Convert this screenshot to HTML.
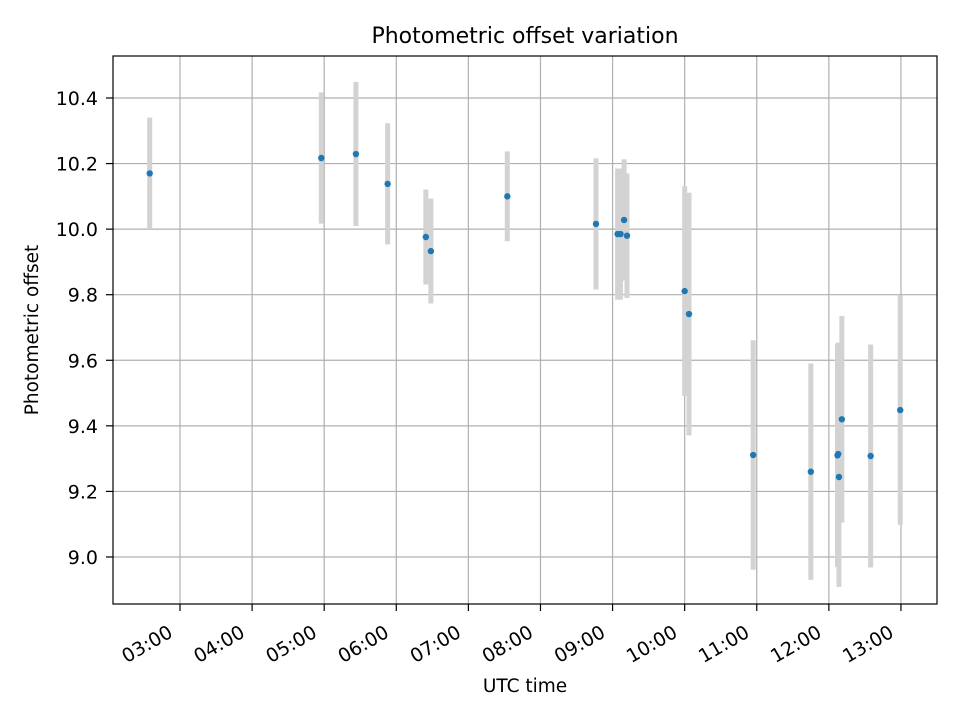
<!DOCTYPE html>
<html><head><meta charset="utf-8"><style>
body{margin:0;background:#fff;}
svg text{font-family:"DejaVu Sans","Liberation Sans",sans-serif;fill:#000;}
</style></head><body>
<svg id="chart" width="960" height="720" xmlns="http://www.w3.org/2000/svg">
<rect width="960" height="720" fill="#fff"/>
<g id="grid"></g>
<g id="errs"></g>
<g id="pts"></g>
<rect x="113" y="56" width="824" height="548" fill="none" stroke="#000" stroke-width="1.2"/>
<g id="ticks"></g>
<text x="525" y="43" font-size="22" text-anchor="middle">Photometric offset variation</text>
<text x="525" y="692" font-size="18.5" text-anchor="middle">UTC time</text>
<text transform="translate(38,330) rotate(-90)" font-size="18.5" text-anchor="middle">Photometric offset</text>
</svg>
<script>
const times=[2.58,4.96,5.44,5.88,6.41,6.48,7.54,8.77,9.07,9.11,9.16,9.2,10.0,10.06,10.95,11.75,12.12,12.13,12.14,12.18,12.58,12.99];
const values=[10.17,10.217,10.229,10.138,9.976,9.933,10.10,10.016,9.985,9.985,10.028,9.98,9.811,9.741,9.311,9.26,9.31,9.314,9.244,9.42,9.308,9.448];
const errors=[0.17,0.2,0.22,0.185,0.145,0.16,0.137,0.2,0.2,0.2,0.185,0.19,0.32,0.37,0.35,0.33,0.34,0.34,0.335,0.315,0.34,0.35];
const xTicks=[3,4,5,6,7,8,9,10,11,12,13];
const xTickLabels=["03:00","04:00","05:00","06:00","07:00","08:00","09:00","10:00","11:00","12:00","13:00"];
const yTicks=[9.0,9.2,9.4,9.6,9.8,10.0,10.2,10.4];
const yTickLabels=["9.0","9.2","9.4","9.6","9.8","10.0","10.2","10.4"];

const L=113,R=937,T=56,B=604;
const xMin=2.0707,xMax=13.5,yMin=8.8566,yMax=10.5281;
const X=h=>L+(h-xMin)/(xMax-xMin)*(R-L);
const Y=v=>B-(v-yMin)/(yMax-yMin)*(B-T);
const NS="http://www.w3.org/2000/svg";
function mk(tag,attrs,parent){const e=document.createElementNS(NS,tag);for(const k in attrs)e.setAttribute(k,attrs[k]);parent.appendChild(e);return e;}
const grid=document.getElementById('grid'),ticks=document.getElementById('ticks');
xTicks.forEach((t,i)=>{
  const x=X(t);
  const g=mk('line',{x1:x,x2:x,y1:T,y2:B,stroke:'#b0b0b0','stroke-width':1.2},grid);
  
  
  const tk=mk('line',{x1:x,x2:x,y1:B,y2:B+7,stroke:'#000','stroke-width':1.2},ticks);
  
  
  const tx=mk('text',{transform:`translate(${x-6},${B+32}) rotate(-30)`,'font-size':19,'text-anchor':'end'},ticks);
  tx.textContent=xTickLabels[i];
  
  
});
yTicks.forEach((t,i)=>{
  const y=Y(t);
  const g=mk('line',{x1:L,x2:R,y1:y,y2:y,stroke:'#b0b0b0','stroke-width':1.2},grid);
  
  
  const tk=mk('line',{x1:L-7,x2:L,y1:y,y2:y,stroke:'#000','stroke-width':1.2},ticks);
  
  
  const tx=mk('text',{x:L-15,y:y+7,'font-size':19,'text-anchor':'end'},ticks);
  tx.textContent=yTickLabels[i];
  
  
});
const errs=document.getElementById('errs'),pts=document.getElementById('pts');
times.forEach((t,i)=>{
  const x=X(t);
  const e=mk('line',{x1:x,x2:x,y1:Y(values[i]+errors[i]),y2:Y(values[i]-errors[i]),stroke:'#d3d3d3','stroke-width':5},errs);
  
  
  const c=mk('circle',{cx:x,cy:Y(values[i]),r:3.2,fill:'#1f77b4'},pts);
  
  
});
</script>
</body></html>
